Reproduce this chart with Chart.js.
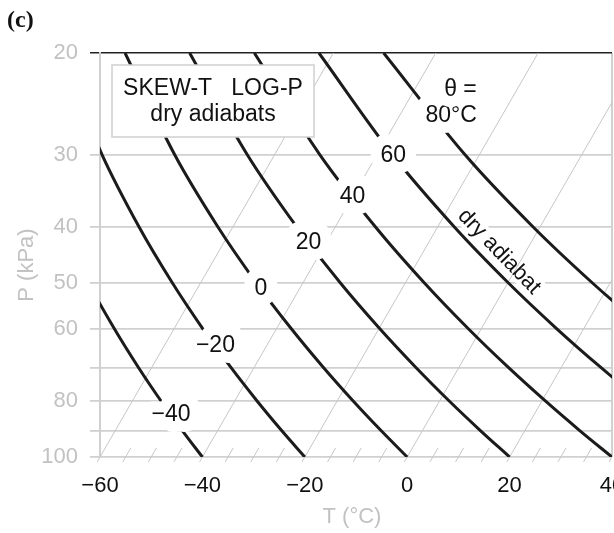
<!DOCTYPE html>
<html>
<head>
<meta charset="utf-8">
<script src="https://cdn.jsdelivr.net/npm/chart.js@4.4.1/dist/chart.umd.min.js"></script>
<style>
  html, body { margin: 0; padding: 0; background: #fff; }
  #wrap { width: 614px; height: 533px; position: relative; }
</style>
</head>
<body>
<div id="wrap"><canvas id="skewT" width="614" height="533"></canvas></div>
<script>
// Skew-T log-P diagram showing only the dry adiabats.

// pressure levels (kPa) where the adiabat temperatures are tabulated
const levels = [100, 90, 80, 70, 60, 50, 40, 30, 20];

// temperature (°C) along each dry adiabat at those levels
const adiabatM40 = [-40, -46.91, -54.40, -62.59, -71.66, -81.89, -93.70, -107.86, -125.94];
const adiabatM20 = [-20, -27.51, -35.64, -44.53, -54.38, -65.48, -78.31, -93.68, -113.31];
const adiabat0 = [0, -8.10, -16.87, -26.46, -37.09, -49.07, -62.91, -79.50, -100.68];
const adiabat20 = [20, 11.31, 1.89, -8.40, -19.81, -32.67, -47.52, -65.32, -88.06];
const adiabat40 = [40, 30.71, 20.66, 9.66, -2.52, -16.26, -32.13, -51.14, -75.43];
const adiabat60 = [60, 50.12, 39.42, 27.72, 14.76, 0.15, -16.73, -36.96, -62.80];
const adiabat80 = [80, 69.53, 58.19, 45.79, 32.04, 16.56, -1.34, -22.79, -50.17];
const adiabats = [adiabatM40, adiabatM20, adiabat0, adiabat20, adiabat40, adiabat60, adiabat80];

// isotherms drawn full length, and the short marks along the base
const isotherms = [-60, -40, -20, 0, 20, 40];
const minorIsotherms = [-55, -50, -45, -35, -30, -25, -15, -10, -5, 5, 10, 15, 25, 30, 35];

const xTicks = [-60, -40, -20, 0, 20, 40];
const yTicks = [20, 30, 40, 50, 60, 70, 80, 90, 100];
const yLabelled = [20, 30, 40, 50, 60, 80, 100];

// curve labels and the pressure where each one sits on its curve
const labelTexts = ['\u221240', '\u221220', '0', '20', '40', '60', '80°C'];
const labelPressures = [84.6, 64.3, 51.2, 42.5, 35.5, 30.1, 25.8];

// isotherms lean 30° from vertical: °C of shift per decade of pressure
const skew = 65.2;
function skewX(t, p) { return t + skew * Math.log10(100 / p); }

const GRID = '#d0d0d0';
const GREY_TEXT = '#c2c2c2';
const FONT = '"Liberation Sans", Arial, Helvetica, sans-serif';

const datasets = [];
isotherms.forEach(t => datasets.push({
  data: [102, 20].map(p => ({x: skewX(t, p), y: p})),
  borderColor: '#c6c6c6', borderWidth: 1, order: 3,
  clip: {left: 8, top: 0, right: 0, bottom: 8}
}));
minorIsotherms.forEach(t => datasets.push({
  data: [102, 96.5].map(p => ({x: skewX(t, p), y: p})),
  borderColor: '#c6c6c6', borderWidth: 1, order: 3, clip: false
}));
const firstAdiabat = datasets.length;
adiabats.forEach(temps => datasets.push({
  data: temps.map((t, i) => ({x: skewX(t, levels[i]), y: levels[i]})),
  borderColor: '#1b1b1b', borderWidth: 3, tension: 0.35, order: 1
}));

// pixel position on a dataset's polyline at a given pressure
function curveAt(chart, dsIndex, p) {
  const pts = chart.getDatasetMeta(dsIndex).data;
  const y = chart.scales.y.getPixelForValue(p);
  for (let i = 0; i < pts.length - 1; i++) {
    const a = pts[i], b = pts[i + 1];
    if ((a.y - y) * (b.y - y) <= 0) {
      const f = (y - a.y) / (b.y - a.y);
      return {x: a.x + f * (b.x - a.x), y: y, dx: b.x - a.x, dy: b.y - a.y};
    }
  }
  return {x: pts[0].x, y: y, dx: 1, dy: 1};
}

// white knock-out behind a label, then the label itself
function haloText(ctx, text, x, y, halo) {
  const m = ctx.measureText(text);
  ctx.fillStyle = '#fff';
  ctx.fillRect(x - m.actualBoundingBoxLeft - 2, y - m.actualBoundingBoxAscent - 2,
    m.actualBoundingBoxLeft + m.actualBoundingBoxRight + 4,
    m.actualBoundingBoxAscent + m.actualBoundingBoxDescent + 4);
  ctx.lineJoin = 'round';
  ctx.strokeStyle = '#fff';
  ctx.lineWidth = halo;
  ctx.strokeText(text, x, y);
  ctx.fillStyle = '#111';
  ctx.fillText(text, x, y);
}

function dryAdiabatText(chart, haloOnly) {
  const ctx = chart.ctx;
  const c = curveAt(chart, firstAdiabat + 5, 46);
  const len = Math.hypot(c.dx, c.dy);
  const ux = -c.dx / len, uy = -c.dy / len;   // pointing down-right
  const off = 15;
  ctx.save();
  ctx.translate(c.x + uy * off, c.y - ux * off);
  ctx.rotate(Math.atan2(uy, ux));
  ctx.font = '22px ' + FONT;
  ctx.textAlign = 'center';
  ctx.textBaseline = 'middle';
  if (haloOnly) {
    ctx.lineJoin = 'round';
    ctx.strokeStyle = '#fff';
    ctx.lineWidth = 8;
    ctx.strokeText('dry adiabat', 0, 0);
  } else {
    ctx.fillStyle = '#111';
    ctx.fillText('dry adiabat', 0, 0);
  }
  ctx.restore();
}

const decor = {
  id: 'decor',
  beforeDatasetsDraw(chart) {
    dryAdiabatText(chart, true);
  },
  afterDatasetsDraw(chart) {
    const ctx = chart.ctx;
    ctx.save();
    ctx.font = '23px ' + FONT;
    ctx.textBaseline = 'middle';
    labelTexts.forEach((txt, i) => {
      const c = curveAt(chart, firstAdiabat + i, labelPressures[i]);
      if (i === labelTexts.length - 1) {
        ctx.textAlign = 'right';
        haloText(ctx, txt, c.x + 42, c.y - 1, 22);
        haloText(ctx, '\u03b8 =', c.x + 42, c.y - 27, 22);
      } else {
        ctx.textAlign = 'center';
        haloText(ctx, txt, c.x, c.y, 22);
      }
    });
    ctx.restore();

    dryAdiabatText(chart, false);

    // title box
    ctx.save();
    ctx.fillStyle = '#fff';
    ctx.fillRect(112, 65, 202, 72);
    ctx.strokeStyle = '#cfcfcf';
    ctx.lineWidth = 1.5;
    ctx.strokeRect(112, 65, 202, 72);
    ctx.fillStyle = '#111';
    ctx.font = '23px ' + FONT;
    ctx.textAlign = 'center';
    ctx.textBaseline = 'middle';
    ctx.fillText('SKEW-T   LOG-P', 213, 89);
    ctx.fillText('dry adiabats', 213, 115);
    ctx.restore();
  },
  afterDraw(chart) {
    const ctx = chart.ctx;
    ctx.save();
    ctx.fillStyle = GREY_TEXT;
    ctx.font = '22px ' + FONT;
    ctx.textAlign = 'center';
    ctx.textBaseline = 'middle';
    ctx.fillText('T (°C)', 352, 517);
    ctx.translate(27, 265);
    ctx.rotate(-Math.PI / 2);
    ctx.fillText('P (kPa)', 0, 0);
    ctx.restore();

    ctx.save();
    ctx.fillStyle = '#111';
    ctx.font = 'bold 24px "Liberation Serif", "Times New Roman", serif';
    ctx.textAlign = 'left';
    ctx.textBaseline = 'middle';
    ctx.fillText('(c)', 7, 21);
    ctx.restore();
  }
};

new Chart(document.getElementById('skewT'), {
  type: 'scatter',
  data: { datasets: datasets },
  options: {
    responsive: false,
    animation: false,
    events: [],
    layout: { padding: { top: 53, right: 2, bottom: 0, left: 0 } },
    datasets: { scatter: { showLine: true, pointRadius: 0, pointHoverRadius: 0 } },
    elements: { line: { capBezierPoints: false } },
    plugins: { legend: { display: false }, tooltip: { enabled: false } },
    scales: {
      x: {
        type: 'linear',
        min: -60, max: 40,
        afterBuildTicks: scale => { scale.ticks = xTicks.map(v => ({value: v})); },
        afterFit: scale => { scale.height = 76; scale.paddingLeft = 0; scale.paddingRight = 0; },
        ticks: {
          autoSkip: false, maxRotation: 0, padding: 16,
          color: '#111',
          font: { size: 22, family: FONT },
          callback: v => v < 0 ? '\u2212' + Math.abs(v) : String(v)
        },
        grid: {
          drawTicks: false,
          lineWidth: 2,
          color: ctx => ctx.tick && ctx.tick.value === 40 ? GRID : 'rgba(0,0,0,0)'
        },
        border: { display: false }
      },
      y: {
        type: 'logarithmic',
        min: 20, max: 100,
        reverse: true,
        afterBuildTicks: scale => { scale.ticks = yTicks.map(v => ({value: v})); },
        afterFit: scale => { scale.width = 100; scale.paddingTop = 0; scale.paddingBottom = 0; },
        ticks: {
          padding: 12,
          color: GREY_TEXT,
          font: { size: 22, family: FONT },
          callback: v => yLabelled.includes(v) ? String(v) : ''
        },
        grid: {
          tickLength: 10,
          color: ctx => ctx.tick && ctx.tick.value === 20 ? '#222' : GRID,
          lineWidth: ctx => ctx.tick && ctx.tick.value === 20 ? 1.5 : 1.8
        },
        border: { display: true, color: GRID, width: 2 }
      }
    }
  },
  plugins: [decor]
});
</script>
</body>
</html>
